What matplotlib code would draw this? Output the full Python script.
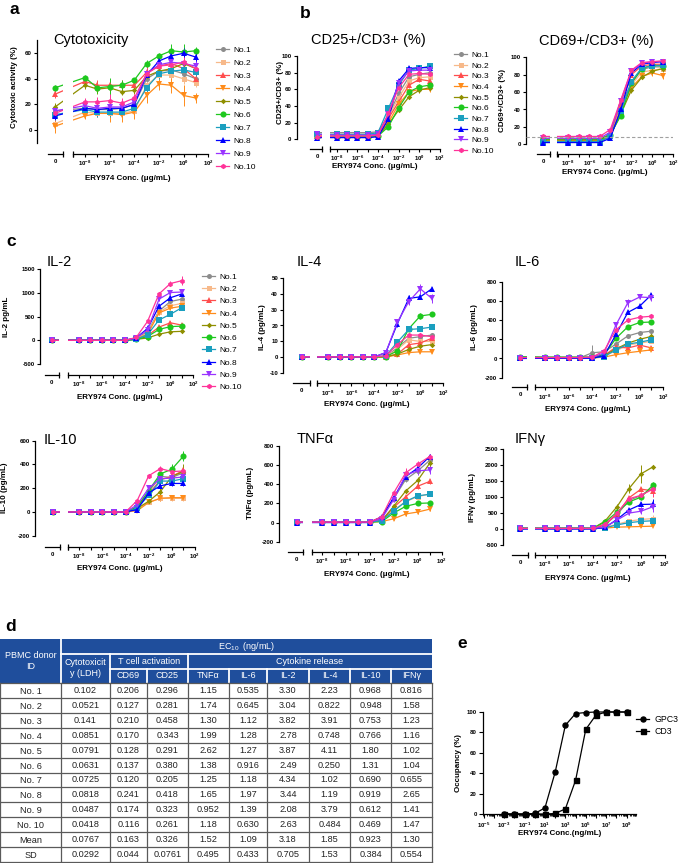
import numpy as np
import matplotlib

matplotlib.use("Agg")
import matplotlib.pyplot as plt  # noqa: E402
from matplotlib import transforms  # noqa: E402
from matplotlib.lines import Line2D  # noqa: E402
from matplotlib.patches import Rectangle  # noqa: E402
from matplotlib.ticker import LogLocator, NullFormatter  # noqa: E402

W, H = 685, 863
plt.rcParams["font.family"] = ["Liberation Sans", "DejaVu Sans"]
plt.rcParams["mathtext.default"] = "regular"

# --- Data -------------------------------------------------------------

# concentration (ug/mL); the first point is the "0" control
CONC = [0, 1e-8, 1e-7, 1e-6, 1e-5, 1e-4, 1e-3, 1e-2, 1e-1, 1, 10]
DONORS = ["No.1", "No.2", "No.3", "No.4", "No.5",
          "No.6", "No.7", "No.8", "No.9", "No.10"]
COLORS = ["#8c8c8c", "#f7b98a", "#ff4d4d", "#ff8c1a", "#8f8f00",
          "#1ec81e", "#1a9fbf", "#0000ff", "#9933ff", "#ff3399"]
MARKERS = ["o", "s", "^", "v", "D", "o", "s", "^", "v", "h"]
SIZES = [3.6, 3.6, 3.8, 3.8, 2.8, 4.4, 4.0, 3.8, 3.8, 3.8]

CYTO = [
    [15, 17, 16, 16, 17, 20, 40, 46, 47, 44, 40],
    [5, 14, 13, 13, 13, 15, 35, 43, 43, 40, 37],
    [28, 38, 35, 35, 35, 35, 45, 50, 52, 48, 40],
    [3, 11, 13, 13, 12, 14, 27, 36, 35, 27, 25],
    [18, 35, 32, 33, 30, 31, 42, 46, 48, 52, 48],
    [33, 41, 33, 34, 35, 39, 52, 58, 62, 61, 62],
    [12, 16, 14, 14, 14, 17, 33, 44, 46, 47, 45],
    [11, 17, 16, 17, 17, 20, 43, 54, 58, 60, 57],
    [15, 19, 17, 18, 18, 22, 44, 51, 53, 52, 50],
    [13, 22, 22, 23, 21, 25, 44, 50, 51, 53, 48],
]
CYTO_ERR = [
    [3, 3, 3, 3, 3, 3, 4, 4, 4, 4, 4],
    [3, 3, 3, 3, 3, 3, 5, 4, 4, 4, 3],
    [3, 3, 4, 4, 4, 4, 5, 5, 5, 6, 5],
    [5, 2, 3, 7, 6, 5, 6, 5, 6, 8, 4],
    [3, 3, 4, 4, 3, 3, 4, 5, 5, 5, 5],
    [2, 2, 4, 7, 4, 2, 3, 2, 5, 6, 3],
    [3, 3, 4, 4, 3, 3, 4, 4, 4, 4, 3],
    [3, 3, 3, 4, 3, 3, 4, 4, 4, 4, 4],
    [3, 3, 4, 5, 4, 3, 4, 4, 4, 4, 4],
    [3, 3, 4, 5, 4, 3, 4, 4, 4, 4, 4],
]

CD25 = [
    [8, 8, 8, 8, 8, 9, 28, 55, 75, 78, 80],
    [5, 6, 6, 6, 6, 7, 27, 50, 70, 74, 75],
    [4, 4, 4, 4, 4, 5, 25, 45, 65, 72, 70],
    [3, 3, 3, 3, 3, 4, 20, 42, 57, 60, 60],
    [3, 3, 3, 3, 3, 4, 18, 35, 51, 59, 62],
    [3, 3, 3, 3, 3, 4, 15, 38, 57, 63, 65],
    [6, 6, 6, 6, 6, 8, 37, 65, 83, 85, 88],
    [2, 2, 2, 2, 2, 3, 24, 70, 85, 86, 86],
    [6, 5, 5, 5, 5, 6, 30, 68, 82, 83, 83],
    [3, 4, 4, 4, 4, 5, 31, 62, 78, 79, 78],
]
CD25_ERR = [[2, 3, 3, 3]] * 10

CD69 = [
    [4, 4, 4, 4, 4, 10, 45, 70, 86, 89, 89],
    [5, 5, 5, 5, 5, 10, 42, 68, 83, 85, 87],
    [6, 6, 6, 6, 6, 12, 48, 80, 90, 92, 92],
    [4, 4, 4, 4, 4, 9, 40, 65, 78, 82, 79],
    [5, 5, 5, 5, 5, 10, 35, 62, 77, 84, 87],
    [6, 6, 6, 6, 6, 11, 33, 70, 87, 91, 90],
    [3, 3, 3, 3, 3, 9, 38, 72, 88, 90, 91],
    [2, 2, 2, 2, 2, 7, 40, 82, 92, 94, 95],
    [7, 7, 7, 7, 7, 14, 50, 84, 93, 95, 95],
    [9, 9, 9, 9, 9, 17, 51, 85, 94, 95, 96],
]
CD69_ERR = [[2, 2, 2, 2], [2, 2, 2, 2], [2, 2, 2, 2], [3, 2, 3, 4], [3, 2, 2, 2],
            [2, 2, 2, 2], [2, 2, 2, 2], [2, 2, 2, 2], [2, 2, 2, 2], [2, 2, 2, 2]]

IL2 = [
    [0, 0, 0, 0, 0, 0, 40, 180, 620, 820, 870],
    [0, 0, 0, 0, 0, 0, 40, 150, 600, 730, 780],
    [0, 0, 0, 0, 0, 0, 30, 100, 280, 370, 320],
    [0, 0, 0, 0, 0, 0, 30, 130, 580, 680, 720],
    [0, 0, 0, 0, 0, 0, 20, 50, 130, 180, 190],
    [0, 0, 0, 0, 0, 0, 20, 80, 230, 290, 300],
    [0, 0, 0, 0, 0, 0, 20, 120, 430, 550, 690],
    [0, 0, 0, 0, 0, 0, 50, 250, 720, 900, 980],
    [0, 0, 0, 0, 0, 0, 50, 220, 870, 1010, 1020],
    [0, 0, 0, 0, 0, 0, 60, 400, 980, 1200, 1260],
]
IL2_ERR = [[20, 40, 60, 60], [20, 40, 50, 50], [20, 40, 40, 40], [20, 40, 40, 40],
           [10, 20, 30, 30], [10, 20, 30, 30], [20, 30, 30, 40], [20, 40, 50, 50],
           [20, 40, 60, 50], [30, 40, 60, 90]]

IL4 = [
    [0.3, 0.3, 0.3, 0.3, 0.3, 0.3, 0.5, 6, 12, 13, 14],
    [0.3, 0.3, 0.3, 0.3, 0.3, 0.3, 0.5, 5, 11, 10, 10],
    [0.3, 0.3, 0.3, 0.3, 0.3, 0.3, 0.5, 2, 8, 9, 12],
    [0.3, 0.3, 0.3, 0.3, 0.3, 0.3, 0.3, 1.5, 3, 3.5, 3.5],
    [0.3, 0.3, 0.3, 0.3, 0.3, 0.3, 0.3, 2, 5, 7, 8],
    [0.3, 0.3, 0.3, 0.3, 0.3, 0.3, 0.5, 4, 18, 26, 27],
    [0.3, 0.3, 0.3, 0.3, 0.3, 0.3, 1, 9.5, 17.5, 18, 19],
    [0.3, 0.3, 0.3, 0.3, 0.3, 0.3, 3, 21, 37, 38, 43],
    [0.3, 0.3, 0.3, 0.3, 0.3, 0.3, 3, 22, 35, 43, 37],
    [0.3, 0.3, 0.3, 0.3, 0.3, 0.3, 1, 8, 14, 14, 13],
]
IL4_ERR = [[1, 1, 1, 1], [1, 1, 1, 1], [0.5, 1, 1, 1.5], [0.5, 0.5, 1, 1],
           [0.5, 1, 1, 1], [1, 1, 2, 1], [1, 1, 1, 1.5], [2, 2, 1.5, 1],
           [2, 2, 3, 3], [1, 1.5, 1.5, 2]]

IL6 = [
    [10, 10, 10, 10, 10, 60, 70, 150, 235, 270, 285],
    [10, 10, 10, 10, 10, 10, 30, 80, 140, 160, 180],
    [10, 10, 10, 10, 10, 10, 30, 120, 110, 140, 110],
    [5, 5, 5, 5, 5, 5, 15, 40, 60, 75, 90],
    [10, 10, 10, 10, 10, 10, 30, 100, 160, 200, 230],
    [20, 15, 15, 15, 15, 15, 40, 210, 330, 375, 380],
    [5, 5, 5, 5, 5, 5, 20, 90, 150, 170, 195],
    [0, 2, 2, 2, 2, 2, 30, 250, 480, 545, 665],
    [10, 10, 10, 10, 10, 10, 60, 350, 580, 640, 635],
    [10, 10, 10, 10, 10, 15, 80, 300, 400, 430, 440],
]
IL6_ERR = [[80, 20, 20, 20, 20, 20], [0, 10, 10, 15, 15, 15], [0, 10, 15, 15, 20, 20],
           [0, 5, 10, 15, 15, 15], [0, 10, 15, 20, 20, 20], [0, 10, 20, 20, 20, 20],
           [0, 10, 10, 15, 15, 15], [0, 10, 20, 20, 20, 20], [0, 10, 30, 40, 20, 40],
           [0, 10, 20, 20, 20, 20]]

IL10 = [
    [0, 0, 0, 0, 0, 0, 50, 170, 300, 290, 330],
    [0, 0, 0, 0, 0, 0, 30, 80, 115, 115, 115],
    [0, 0, 0, 0, 0, 0, 40, 150, 270, 300, 350],
    [0, 0, 0, 0, 0, 0, 10, 80, 115, 120, 120],
    [0, 0, 0, 0, 0, 0, 30, 90, 170, 300, 340],
    [0, 0, 0, 0, 0, 0, 40, 180, 320, 360, 470],
    [0, 0, 0, 0, 0, 0, 30, 140, 260, 260, 280],
    [0, 0, 0, 0, 0, 0, 20, 160, 220, 240, 240],
    [0, 0, 0, 0, 0, 0, 60, 200, 280, 285, 295],
    [0, 0, 0, 0, 0, 0, 95, 305, 365, 340, 345],
]
IL10_ERR = [[20, 20, 30, 30], [10, 20, 20, 20], [10, 20, 20, 20], [10, 20, 20, 20],
            [20, 30, 50, 60], [20, 30, 40, 45], [10, 20, 20, 20], [10, 20, 20, 20],
            [10, 20, 20, 20], [15, 20, 20, 20]]

TNFA = [
    [5, 5, 5, 5, 5, 5, 60, 250, 450, 540, 650],
    [5, 5, 5, 5, 5, 5, 20, 130, 220, 270, 300],
    [5, 5, 5, 5, 5, 5, 20, 160, 270, 380, 430],
    [5, 5, 5, 5, 5, 5, 10, 40, 90, 110, 140],
    [5, 5, 5, 5, 5, 5, 20, 170, 330, 440, 620],
    [5, 5, 5, 5, 5, 5, 10, 100, 170, 200, 205],
    [5, 5, 5, 5, 5, 5, 20, 120, 220, 280, 295],
    [0, 0, 0, 0, 0, 0, 60, 260, 480, 570, 690],
    [5, 5, 5, 5, 5, 5, 40, 240, 500, 540, 550],
    [5, 5, 5, 5, 5, 5, 60, 310, 520, 610, 690],
]
TNFA_ERR = [[20, 30, 30, 30], [10, 20, 20, 20], [10, 20, 30, 30], [10, 20, 20, 20],
            [20, 20, 40, 40], [10, 20, 20, 20], [10, 20, 20, 20], [20, 30, 40, 30],
            [20, 40, 40, 40], [20, 50, 30, 30]]

IFNG = [
    [20, 20, 20, 20, 20, 20, 150, 450, 900, 1050, 1300],
    [20, 20, 20, 20, 20, 20, 50, 150, 250, 300, 330],
    [20, 20, 20, 20, 20, 20, 120, 480, 980, 1250, 1200],
    [20, 20, 20, 20, 20, 20, 30, 60, 70, 80, 90],
    [20, 20, 20, 20, 20, 20, 250, 700, 1270, 1730, 1950],
    [30, 30, 30, 30, 30, 30, 220, 530, 850, 1000, 1380],
    [20, 20, 20, 20, 20, 20, 40, 130, 200, 240, 260],
    [0, 0, 0, 0, 0, 0, 50, 300, 600, 770, 780],
    [20, 20, 20, 20, 20, 20, 60, 280, 500, 560, 700],
    [20, 20, 20, 20, 20, 20, 150, 500, 950, 1060, 1250],
]
IFNG_ERR = [[40, 60, 80, 100], [20, 30, 40, 100], [40, 60, 80, 200], [10, 10, 10, 10],
            [100, 150, 280, 50], [40, 60, 80, 100], [20, 30, 40, 40], [30, 50, 80, 150],
            [30, 50, 80, 150], [40, 60, 80, 200]]

# table d: EC10 (ng/mL)
ROW_LABELS = ["No. 1", "No. 2", "No. 3", "No. 4", "No. 5", "No. 6", "No. 7",
              "No. 8", "No. 9", "No. 10", "Mean", "SD"]
SUB_HEADS = ["CD69", "CD25", "TNF\u03b1", "IL-6", "IL-2", "IL-4", "IL-10", "IFN\u03b3"]
EC_CYTO = ["0.102", "0.0521", "0.141", "0.0851", "0.0791", "0.0631", "0.0725",
           "0.0818", "0.0487", "0.0418", "0.0767", "0.0292"]
EC_CD69 = ["0.206", "0.127", "0.210", "0.170", "0.128", "0.137", "0.120",
           "0.241", "0.174", "0.116", "0.163", "0.044"]
EC_CD25 = ["0.296", "0.281", "0.458", "0.343", "0.291", "0.380", "0.205",
           "0.418", "0.323", "0.261", "0.326", "0.0761"]
EC_TNFA = ["1.15", "1.74", "1.30", "1.99", "2.62", "1.38", "1.25",
           "1.65", "0.952", "1.18", "1.52", "0.495"]
EC_IL6 = ["0.535", "0.645", "1.12", "1.28", "1.27", "0.916", "1.18",
          "1.97", "1.39", "0.630", "1.09", "0.433"]
EC_IL2 = ["3.30", "3.04", "3.82", "2.78", "3.87", "2.49", "4.34",
          "3.44", "2.08", "2.63", "3.18", "0.705"]
EC_IL4 = ["2.23", "0.822", "3.91", "0.748", "4.11", "0.250", "1.02",
          "1.19", "3.79", "0.484", "1.85", "1.53"]
EC_IL10 = ["0.968", "0.948", "0.753", "0.766", "1.80", "1.31", "0.690",
           "0.919", "0.612", "0.469", "0.923", "0.384"]
EC_IFNG = ["0.816", "1.58", "1.23", "1.16", "1.02", "1.04", "0.655",
           "2.65", "1.41", "1.47", "1.30", "0.554"]

# panel e: receptor occupancy (%), conc in ng/mL
E_CONC = [1e-3, 1e-2, 1e-1, 1e0, 1e1, 1e2, 1e3, 1e4, 1e5, 1e6, 1e7, 1e8, 1e9]
GPC3_OCC = [0, 0, 0, 0.5, 6, 41, 87, 98.5, 99.5, 100, 100, 100, 100]
CD3_OCC = [0, 0, 0, 0, 0, 0.5, 5, 33, 83, 97, 100, 100, 100]

# --- Layout (pixels in the 685x863 image) -------------------------------

PANELS = [
    dict(data=CYTO, err=CYTO_ERR, ylim=(-10, 70), yticks=[0, 20, 40, 60],
         title="Cytotoxicity", title_xy=(53, 40), title_ha="left",
         ylabel="Cytotoxic activity (%)", ylabel_xy=(15, 87), xlabel_xy=(128, 178),
         spine=37, ytop=40.5, ybot=142.8, x1e8=85, x100=208.3, zero=55,
         seg1=(48.3, 63.3), seg2=72.7, xaxis=154, legend=(216, 46, 0.62)),
    dict(data=CD25, err=CD25_ERR, ylim=(0, 100), yticks=[0, 20, 40, 60, 80, 100],
         title="CD25+/CD3+ (%)", title_xy=(368, 40), title_ha="center",
         ylabel="CD25+/CD3+ (%)", ylabel_xy=(281, 93), xlabel_xy=(375, 166),
         spine=296.7, ytop=56, ybot=139.3, x1e8=336.7, x100=440, zero=317.3,
         seg1=(310, 321.7), seg2=330, xaxis=149, legend=(454, 51, 0.34)),
    dict(data=CD69, err=CD69_ERR, ylim=(0, 100), yticks=[0, 20, 40, 60, 80, 100],
         title="CD69+/CD3+ (%)", title_xy=(596, 41), title_ha="center",
         ylabel="CD69+/CD3+ (%)", ylabel_xy=(503, 100), xlabel_xy=(605, 173),
         spine=526, ytop=57.3, ybot=144.3, x1e8=568.3, x100=673.3, zero=543.3,
         seg1=(536.7, 550), seg2=557.3, xaxis=154, hline=8),
    dict(data=IL2, err=IL2_ERR, ylim=(-500, 1500), yticks=[-500, 0, 500, 1000, 1500],
         title="IL-2", title_xy=(47, 262), title_ha="left",
         ylabel="IL-2 pg/mL", ylabel_xy=(6, 317), xlabel_xy=(120, 397),
         spine=40, ytop=269.3, ybot=364, x1e8=79, x100=193.3, zero=51.7,
         seg1=(45, 59.3), seg2=68.3, xaxis=375, legend=(202, 273, 0.53)),
    dict(data=IL4, err=IL4_ERR, ylim=(-10, 50), yticks=[-10, 0, 10, 20, 30, 40, 50],
         title="IL-4", title_xy=(297, 262), title_ha="left",
         ylabel="IL-4 (pg/mL)", ylabel_xy=(262, 327), xlabel_xy=(367, 404),
         spine=283.3, ytop=277.7, ybot=373.3, x1e8=328.3, x100=443.3, zero=301.7,
         seg1=(293.3, 310), seg2=317.3, xaxis=383.3),
    dict(data=IL6, err=IL6_ERR, ylim=(-200, 800), yticks=[-200, 0, 200, 400, 600, 800],
         title="IL-6", title_xy=(515, 262), title_ha="left",
         ylabel="IL-6 (pg/mL)", ylabel_xy=(475, 327), xlabel_xy=(588, 409),
         spine=502.3, ytop=281.7, ybot=377.7, x1e8=545, x100=663.3, zero=520,
         seg1=(512.3, 526.7), seg2=535, xaxis=387.3),
    dict(data=IL10, err=IL10_ERR, ylim=(-200, 600), yticks=[-200, 0, 200, 400, 600],
         title="IL-10", title_xy=(44, 440), title_ha="left",
         ylabel="IL-10 (pg/mL)", ylabel_xy=(5, 488), xlabel_xy=(120, 568),
         spine=35, ytop=440.7, ybot=535.7, x1e8=79.3, x100=195, zero=52.7,
         seg1=(45, 60), seg2=68.3, xaxis=546.7),
    dict(data=TNFA, err=TNFA_ERR, ylim=(-200, 800), yticks=[-200, 0, 200, 400, 600, 800],
         title="TNF\u03b1", title_xy=(297, 439), title_ha="left",
         ylabel="TNF\u03b1 (pg/mL)", ylabel_xy=(251, 493), xlabel_xy=(367, 574),
         spine=279.3, ytop=446, ybot=541.7, x1e8=321.7, x100=441.7, zero=296.7,
         seg1=(288.3, 303.3), seg2=311.7, xaxis=551.7),
    dict(data=IFNG, err=IFNG_ERR, ylim=(-500, 2500),
         yticks=[-500, 0, 500, 1000, 1500, 2000, 2500],
         title="IFN\u03b3", title_xy=(515, 439), title_ha="left",
         ylabel="IFN\u03b3 (pg/mL)", ylabel_xy=(472, 498), xlabel_xy=(588, 578),
         spine=503.3, ytop=449.3, ybot=545, x1e8=545, x100=665, zero=520,
         seg1=(512.3, 527.7), seg2=535, xaxis=555),
]

XLABEL = "ERY974 Conc. (\u03bcg/mL)"
TICK_FS = 4.4
LABEL_FS = 5.8


def fx(px):
    return px / W


def fy(py):
    return 1 - py / H


def px_axes(fig, left, top, right, bottom):
    return fig.add_axes([fx(left), fy(bottom), (right - left) / W, (bottom - top) / H])


def dose_panel(fig, p):
    ppd = (p["x100"] - p["x1e8"]) / 10.0

    def to_log(px):
        return -8 + (px - p["x1e8"]) / ppd

    ax = px_axes(fig, p["spine"], p["ytop"], p["x100"], p["ybot"])
    ax.set_xlim(to_log(p["spine"]), 2)
    ax.set_ylim(*p["ylim"])
    x0 = to_log(p["zero"])
    xs = [x0 if c == 0 else np.log10(c) for c in CONC]
    for i in range(len(DONORS)):
        e = list(p["err"][i])
        e = [0] * (len(CONC) - len(e)) + e
        ax.errorbar(xs, p["data"][i], yerr=e, color=COLORS[i], marker=MARKERS[i],
                    ms=SIZES[i], mew=0, lw=0.9, elinewidth=0.7, capsize=1.5,
                    capthick=0.7, clip_on=False, zorder=3)
    # gap in the curves where the axis is broken
    ax.axvspan(to_log(p["seg1"][1]), to_log(p["seg2"]), color="white", lw=0, zorder=4)
    if "hline" in p:
        ax.axhline(p["hline"], color="#a0a0a0", lw=0.8, ls=(0, (3, 2)), zorder=5)

    for side in ("top", "right"):
        ax.spines[side].set_visible(False)
    ax.spines["left"].set_linewidth(0.9)
    off = (p["xaxis"] - p["ybot"]) * 0.72
    ax.spines["bottom"].set_position(("outward", off))
    ax.spines["bottom"].set_bounds(to_log(p["seg2"]), 2)
    ax.spines["bottom"].set_linewidth(0.9)

    trans = transforms.blended_transform_factory(ax.transData, ax.transAxes) + \
        transforms.ScaledTranslation(0, -off / 72, fig.dpi_scale_trans)
    ax.plot([to_log(p["seg1"][0]), to_log(p["seg1"][1])], [0, 0], color="k", lw=0.9,
            transform=trans, clip_on=False)
    ax.plot([to_log(p["seg1"][1]), to_log(p["seg2"])], [0, 0], ls="none", marker="|",
            ms=5, mew=0.9, color="k", transform=trans, clip_on=False)

    majors = [-8, -6, -4, -2, 0, 2]
    ax.set_xticks([x0] + majors, ["0"] + [r"$10^{%d}$" % k for k in majors],
                  fontsize=TICK_FS, fontweight="bold")
    ax.set_xticks([k for k in range(-9, 2, 2) if k >= to_log(p["seg2"]) - 0.05],
                  minor=True)
    ax.tick_params(axis="x", which="both", length=2.5, width=0.8, pad=1.2)
    ax.xaxis.get_major_ticks()[0].tick1line.set_visible(False)
    ax.set_yticks(p["yticks"], [str(v) for v in p["yticks"]], fontsize=TICK_FS,
                  fontweight="bold")
    ax.tick_params(axis="y", length=2.5, width=0.8, pad=1.2)

    tx, ty = p["title_xy"]
    fig.text(fx(tx), fy(ty), p["title"], ha=p["title_ha"], va="center", fontsize=10.5)
    lx, ly = p["ylabel_xy"]
    fig.text(fx(lx), fy(ly), p["ylabel"], rotation=90, ha="center", va="center",
             fontsize=LABEL_FS, fontweight="bold")
    xx, xy = p["xlabel_xy"]
    fig.text(fx(xx), fy(xy), XLABEL, ha="center", va="center", fontsize=LABEL_FS,
             fontweight="bold")

    if "legend" in p:
        lgx, lgy, spacing = p["legend"]
        handles = [Line2D([], [], color=COLORS[i], marker=MARKERS[i], ms=SIZES[i],
                          mew=0, lw=0.9) for i in range(len(DONORS))]
        ax.legend(handles, DONORS, loc="upper left", bbox_to_anchor=(fx(lgx), fy(lgy)),
                  bbox_transform=fig.transFigure, frameon=False, fontsize=6,
                  handlelength=1.6, handletextpad=0.5, labelspacing=spacing,
                  borderpad=0, borderaxespad=0)
    return ax


def draw_table(fig):
    ax = fig.add_axes([0, 0, 1, 1])
    ax.set_xlim(0, W)
    ax.set_ylim(H, 0)
    ax.axis("off")

    cols = [0, 61, 110, 147, 188, 229, 267, 309, 350, 391, 432]
    h0, h1, h2, h3 = 639, 653.5, 668.5, 683
    bottom = 862
    row_h = (bottom - h3) / len(ROW_LABELS)
    blue = "#1f4e9c"

    ax.add_patch(Rectangle((cols[0], h0), cols[-1] - cols[0], h3 - h0, color=blue, lw=0))
    white = dict(color="white", lw=1.3)
    ax.plot([cols[1], cols[1]], [h0, h3], **white)
    ax.plot([cols[1], cols[-1]], [h1, h1], **white)
    ax.plot([cols[2], cols[-1]], [h2, h2], **white)
    for c in (cols[2], cols[4]):
        ax.plot([c, c], [h1, h3], **white)
    for c in cols[3:4] + cols[5:-1]:
        ax.plot([c, c], [h2, h3], **white)

    hd = dict(color="white", fontsize=6.5, ha="center", va="center")
    ax.text((cols[0] + cols[1]) / 2, (h0 + h3) / 2, "PBMC donor\nID", linespacing=1.2, **hd)
    ax.text((cols[1] + cols[-1]) / 2, (h0 + h1) / 2 + 0.5, "EC$_{10}$  (ng/mL)", **hd)
    ax.text((cols[1] + cols[2]) / 2, (h1 + h3) / 2, "Cytotoxicit\ny (LDH)",
            linespacing=1.25, **hd)
    ax.text((cols[2] + cols[4]) / 2, (h1 + h2) / 2, "T cell activation", **hd)
    ax.text((cols[4] + cols[-1]) / 2, (h1 + h2) / 2, "Cytokine release", **hd)
    for j, name in enumerate(SUB_HEADS):
        ax.text((cols[j + 2] + cols[j + 3]) / 2, (h2 + h3) / 2, name, **hd)

    columns = [ROW_LABELS, EC_CYTO, EC_CD69, EC_CD25, EC_TNFA, EC_IL6, EC_IL2,
               EC_IL4, EC_IL10, EC_IFNG]
    grid = dict(color="#5a5a5a", lw=0.9)
    for r in range(len(ROW_LABELS) + 1):
        y = h3 + r * row_h
        ax.plot([cols[0], cols[-1]], [y, y], **grid)
    for c in cols:
        ax.plot([c, c], [h3, bottom], **grid)
    for j, col in enumerate(columns):
        cx = (cols[j] + cols[j + 1]) / 2
        for r, val in enumerate(col):
            cy = h3 + (r + 0.5) * row_h + (1 if j == 0 else 0)
            ax.text(cx, cy, val, ha="center", va="center", fontsize=6.6, color="#222222")


def occupancy_panel(fig):
    ax = px_axes(fig, 483, 712, 636, 814)
    ax.set_xscale("log")
    ax.set_xlim(10 ** -5.07, 10 ** 9.92)
    ax.set_ylim(0, 100)
    ax.plot(E_CONC, GPC3_OCC, color="k", marker="o", ms=3.6, lw=0.9, clip_on=False,
            label="GPC3")
    ax.plot(E_CONC, CD3_OCC, color="k", marker="s", ms=3.6, lw=0.9, clip_on=False,
            label="CD3")
    for side in ("top", "right"):
        ax.spines[side].set_visible(False)
    for side in ("left", "bottom"):
        ax.spines[side].set_linewidth(0.9)
    exps = list(range(-5, 10))
    ax.set_xticks([10.0 ** k for k in exps],
                  [r"$10^{%d}$" % k if k % 2 else "" for k in exps],
                  fontsize=TICK_FS, fontweight="bold")
    ax.xaxis.set_minor_locator(LogLocator(base=10, subs=np.arange(2, 10), numticks=100))
    ax.xaxis.set_minor_formatter(NullFormatter())
    ax.tick_params(axis="x", which="major", length=3, width=0.8, pad=1.5)
    ax.tick_params(axis="x", which="minor", length=1.6, width=0.6)
    ax.set_yticks([0, 20, 40, 60, 80, 100], ["0", "20", "40", "60", "80", "100"],
                  fontsize=TICK_FS, fontweight="bold")
    ax.tick_params(axis="y", length=3, width=0.8, pad=1.5)
    fig.text(fx(458), fy(763), "Occupancy (%)", rotation=90, ha="center", va="center",
             fontsize=LABEL_FS, fontweight="bold")
    fig.text(fx(560), fy(833), "ERY974 Conc.(ng/mL)", ha="center", va="center",
             fontsize=LABEL_FS, fontweight="bold")
    ax.legend(loc="upper left", bbox_to_anchor=(fx(636), fy(715)),
              bbox_transform=fig.transFigure, frameon=False, fontsize=6.3,
              handlelength=1.5, handletextpad=0.6, labelspacing=0.35,
              borderpad=0, borderaxespad=0)


def main():
    fig = plt.figure(figsize=(W / 100, H / 100), dpi=100)
    for p in PANELS:
        dose_panel(fig, p)
    occupancy_panel(fig)
    draw_table(fig)

    for letter, (x, y) in zip("abcde", [(14, 10), (305, 13), (11, 241), (11, 626),
                                        (462, 643)]):
        fig.text(fx(x), fy(y), letter, ha="center", va="center", fontsize=12.5,
                 fontweight="bold")

    fig.savefig("out.png", dpi=100)


if __name__ == "__main__":
    main()
